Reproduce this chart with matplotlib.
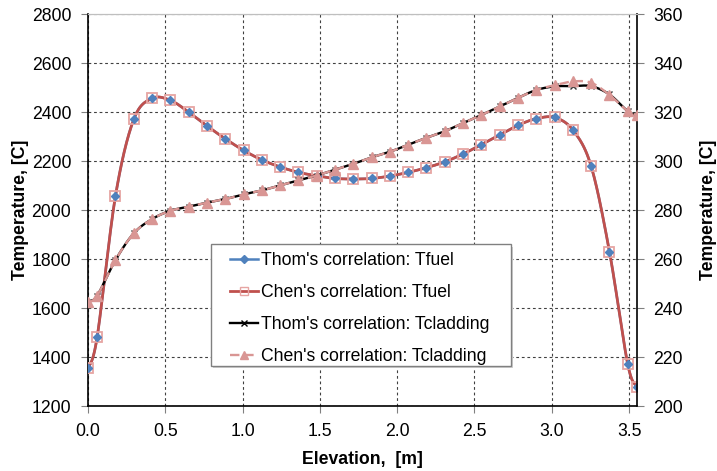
import numpy as np
import matplotlib
matplotlib.use('Agg')
import matplotlib.pyplot as plt
from matplotlib.lines import Line2D
from matplotlib.patches import Rectangle

plt.rcParams['font.family'] = ['Liberation Sans', 'DejaVu Sans']

# ---- data -------------------------------------------------------------
elevation = [0.000, 0.059, 0.178, 0.296, 0.414, 0.533, 0.651, 0.769, 0.888,
             1.006, 1.124, 1.243, 1.361, 1.479, 1.598, 1.716, 1.834, 1.953,
             2.071, 2.189, 2.308, 2.426, 2.544, 2.663, 2.781, 2.899, 3.018,
             3.136, 3.254, 3.373, 3.491, 3.550]

t_fuel_thom = [1354, 1480, 2058, 2370, 2456, 2448, 2400, 2344, 2291,
               2244, 2205, 2176, 2154, 2140, 2129, 2127, 2129, 2139,
               2154, 2173, 2197, 2229, 2267, 2307, 2346, 2373, 2378,
               2327, 2180, 1830, 1371, 1279]

t_fuel_chen = [1354, 1480, 2058, 2370, 2456, 2448, 2400, 2344, 2291,
               2244, 2205, 2176, 2154, 2140, 2129, 2127, 2129, 2139,
               2154, 2173, 2197, 2229, 2267, 2307, 2346, 2373, 2378,
               2327, 2180, 1830, 1371, 1279]

t_clad_thom = [242.6, 245.0, 259.6, 270.5, 276.3, 279.7, 281.4, 283.0, 284.5,
               286.4, 288.0, 290.1, 292.1, 294.1, 296.5, 298.9, 301.5, 303.8,
               306.7, 309.5, 312.2, 315.5, 318.8, 322.3, 325.8, 329.0, 330.5,
               330.6, 330.6, 327.2, 320.4, 318.8]

t_clad_chen = [242.3, 245.0, 259.6, 270.5, 276.3, 279.7, 281.4, 283.0, 284.5,
               286.4, 288.0, 290.1, 292.1, 294.1, 296.5, 298.9, 301.5, 303.8,
               306.7, 309.5, 312.2, 315.5, 318.8, 322.3, 325.8, 329.0, 331.0,
               332.5, 332.0, 327.0, 320.4, 318.8]

labels = ["Thom's correlation: Tfuel", "Chen's correlation: Tfuel",
          "Thom's correlation: Tcladding", "Chen's correlation: Tcladding"]

x_ticks = [0.0, 0.5, 1.0, 1.5, 2.0, 2.5, 3.0, 3.5]
y_left_ticks = [1200, 1400, 1600, 1800, 2000, 2200, 2400, 2600, 2800]
y_right_ticks = [200, 220, 240, 260, 280, 300, 320, 340, 360]


def smooth(x, y, n=24):
    """Excel-like smoothed line (cubic Bezier through the points)."""
    x = np.asarray(x, float)
    y = np.asarray(y, float)
    P = np.column_stack([x, y])
    P = np.vstack([P[0], P, P[-1]])
    t = np.linspace(0, 1, n)[:, None]
    segs = []
    for i in range(1, len(P) - 2):
        p0, p1, p2, p3 = P[i - 1], P[i], P[i + 1], P[i + 2]
        c1 = p1 + (p2 - p0) / 6.0
        c2 = p2 - (p3 - p1) / 6.0
        b = ((1 - t) ** 3) * p1 + 3 * ((1 - t) ** 2) * t * c1 + 3 * (1 - t) * t ** 2 * c2 + t ** 3 * p2
        segs.append(b if i == 1 else b[1:])
    s = np.vstack(segs)
    return s[:, 0], s[:, 1]


FS = 12.7

fig = plt.figure(figsize=(7.17, 4.71), dpi=100)
ax = fig.add_axes([0.1227, 0.138, 0.7655, 0.832])
ax2 = ax.twinx()

blue = '#4F81BD'
red = '#C0504D'
pink = '#D99694'
sq_edge = '#E6A5A3'

# fuel (left axis)
sx, sy = smooth(elevation, t_fuel_thom)
ax.plot(sx, sy, color=blue, lw=1.8, zorder=3)
ax.plot(elevation, t_fuel_thom, ls='none', marker='D', ms=4, color=blue, zorder=5)
sx, sy = smooth(elevation, t_fuel_chen)
ax.plot(sx, sy, color=red, lw=2.0, zorder=4)
ax.plot(elevation, t_fuel_chen, ls='none', marker='s', ms=6.5, mfc='none',
        mec=sq_edge, mew=1.3, zorder=4.5)

# cladding (right axis)
sx, sy = smooth(elevation, t_clad_thom)
ax2.plot(sx, sy, color='black', lw=1.7, zorder=3)
ax2.plot(elevation, t_clad_thom, ls='none', marker='x', ms=5, mew=1.0, color='#333333', zorder=3)
sx, sy = smooth(elevation, t_clad_chen)
ax2.plot(sx, sy, color=pink, lw=1.7, ls=(0, (4, 2)), zorder=4)
ax2.plot(elevation, t_clad_chen, ls='none', marker='^', ms=7, color=pink, zorder=4)

ax.set_xlim(0, 3.55)
ax.set_ylim(1200, 2800)
ax2.set_ylim(200, 360)
ax.set_xticks(x_ticks)
ax.set_xticklabels([f'{v:.1f}' for v in x_ticks])
ax.set_yticks(y_left_ticks)
ax2.set_yticks(y_right_ticks)

ax.grid(True, color='#404040', ls=(0, (2.5, 2.5)), lw=0.8)
ax.set_axisbelow(True)

for a in (ax, ax2):
    a.tick_params(labelsize=FS, length=5, width=0.8, color='#808080', pad=7)
    a.spines['top'].set_color('#BFBFBF')
ax.tick_params(axis='x', pad=7)
ax.spines['left'].set_linewidth(1.2)
ax.spines['bottom'].set_linewidth(1.2)
ax2.spines['right'].set_linewidth(1.2)
ax2.spines['left'].set_visible(False)
ax2.spines['bottom'].set_visible(False)
ax.spines['right'].set_visible(False)

ax.set_xlabel('Elevation,  [m]', fontsize=FS, fontweight='bold', labelpad=8)
ax.set_ylabel('Temperature, [C]', fontsize=FS, fontweight='bold', labelpad=2)
ax2.set_ylabel('Temperature, [C]', fontsize=FS, fontweight='bold', labelpad=12)

# legend frame (drawn as a box) + frameless legend inside
box = Rectangle((0.225, 0.102), 0.546, 0.311, transform=ax2.transAxes,
                facecolor='white', edgecolor='#808080', lw=1.0, zorder=9)
ax2.add_patch(box)
shadow = Rectangle((0.228, 0.096), 0.546, 0.311, transform=ax2.transAxes,
                   facecolor='#D0D0D0', edgecolor='none', zorder=8.9)
ax2.add_patch(shadow)

handles = [
    Line2D([], [], color=blue, lw=1.8, marker='D', ms=4),
    Line2D([], [], color=red, lw=2.0, marker='s', ms=6, mfc='none', mec=sq_edge),
    Line2D([], [], color='black', lw=1.7, marker='x', ms=5, mew=1.0),
    Line2D([], [], color=pink, lw=1.7, ls=(0, (4, 2)), marker='^', ms=6),
]
leg = ax2.legend(handles, labels, loc='upper left', bbox_to_anchor=(0.2587, 0.392),
                 fontsize=FS, frameon=False, borderpad=0,
                 labelspacing=0.84, handlelength=1.6, handletextpad=0.15,
                 borderaxespad=0)
leg.set_zorder(10)

fig.savefig('out.png', dpi=100)
